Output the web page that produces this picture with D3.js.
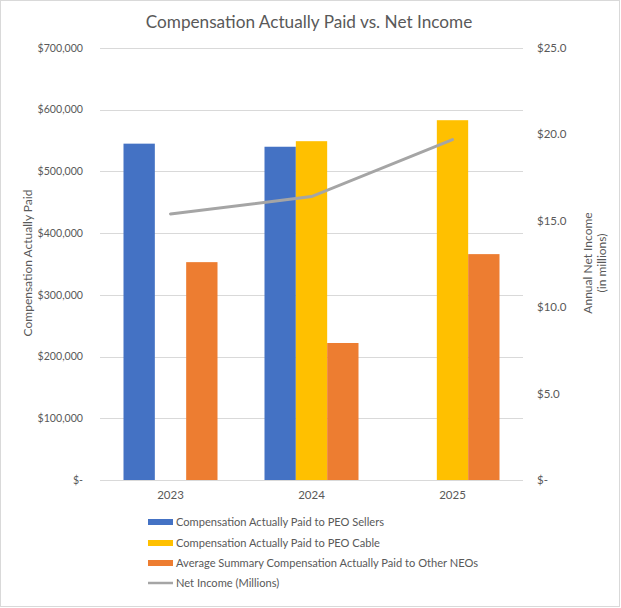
<!DOCTYPE html>
<html>
<head>
<meta charset="utf-8">
<script src="https://cdn.jsdelivr.net/npm/d3@7"></script>
<style>
  body { margin: 0; background: #fff; }
  text { font-family: Lato, "Open Sans", sans-serif; fill: #595959; }
</style>
</head>
<body>
<div id="chart"></div>
<script>
//---------------------------DATA---------------------------//
var years = ["2023", "2024", "2025"];
var seriesNames = [
    "Compensation Actually Paid to PEO Sellers",
    "Compensation Actually Paid to PEO Cable",
    "Average Summary Compensation Actually Paid to Other NEOs"
];
var peoSellers = [545000, 540000, null];
var peoCable = [null, 549000, 583000];
var otherNeos = [353000, 222000, 366000];
var netIncome = [15.4, 16.4, 19.7];
var leftTicks = [0, 100000, 200000, 300000, 400000, 500000, 600000, 700000];
var rightTicks = [0, 5, 10, 15, 20, 25];
var lineName = "Net Income (Millions)";

var colors = ["#4472C4", "#FFC000", "#ED7D31"];

//---------------------------SVG----------------------------//
var W = 621, H = 608;
var svg = d3.select("#chart").append("svg")
    .attr("width", W)
    .attr("height", H);

svg.append("rect")
    .attr("x", 0.5).attr("y", 0.5)
    .attr("width", W - 2).attr("height", H - 2)
    .attr("fill", "#fff")
    .attr("stroke", "#d9d9d9");

var plot = { left: 100, right: 523, top: 48, bottom: 480 };

//--------------------------SCALES--------------------------//
var x0 = d3.scaleBand().domain(years).range([plot.left, plot.right]);
var bw = x0.bandwidth();
var x1 = d3.scaleBand().domain([0, 1, 2]).range([bw / 6, bw * 5 / 6]);
var yL = d3.scaleLinear().domain([0, 700000]).range([plot.bottom, plot.top]);
var yR = d3.scaleLinear().domain([0, 25]).range([plot.bottom, plot.top]);

//-------------------------GRIDLINES------------------------//
svg.append("g").selectAll("line")
    .data(leftTicks)
    .enter().append("line")
    .attr("x1", plot.left).attr("x2", plot.right)
    .attr("y1", function(d) { return Math.round(yL(d)) + 0.5; })
    .attr("y2", function(d) { return Math.round(yL(d)) + 0.5; })
    .attr("stroke", "#d9d9d9");

//---------------------------AXES---------------------------//
var fmtL = function(d) { return d === 0 ? "$-" : "$" + d3.format(",")(d); };
var fmtR = function(d) { return d === 0 ? "$-" : "$" + d3.format(".1f")(d); };

svg.append("g").selectAll("text")
    .data(leftTicks)
    .enter().append("text")
    .attr("x", 83)
    .attr("y", function(d) { return yL(d); })
    .attr("dy", "0.35em")
    .attr("text-anchor", "end")
    .style("font-size", "10.6px")
    .text(fmtL);

svg.append("g").selectAll("text")
    .data(rightTicks)
    .enter().append("text")
    .attr("x", 537)
    .attr("y", function(d) { return yR(d); })
    .attr("dy", "0.35em")
    .style("font-size", "11.5px")
    .text(fmtR);

svg.append("g").selectAll("text")
    .data(years)
    .enter().append("text")
    .attr("x", function(d) { return x0(d) + bw / 2; })
    .attr("y", 499)
    .attr("text-anchor", "middle")
    .style("font-size", "11.5px")
    .text(function(d) { return d; });

svg.append("text")
    .attr("transform", "translate(32,263) rotate(-90)")
    .attr("text-anchor", "middle")
    .style("font-size", "12px")
    .text("Compensation Actually Paid");

var rt = svg.append("text")
    .attr("transform", "translate(588,263) rotate(-90)")
    .attr("text-anchor", "middle")
    .style("font-size", "12px");
rt.append("tspan").attr("x", 0).attr("dy", "0.35em").text("Annual Net Income");
rt.append("tspan").attr("x", 0).attr("dy", "1.15em").text("(in millions)");

//---------------------------TITLE--------------------------//
svg.append("text")
    .attr("x", 309)
    .attr("y", 28)
    .attr("text-anchor", "middle")
    .style("font-size", "17.2px")
    .text("Compensation Actually Paid vs. Net Income");

//---------------------------BARS---------------------------//
var allSeries = [peoSellers, peoCable, otherNeos];
var barData = [];
allSeries.forEach(function(s, si) {
    s.forEach(function(v, i) {
        if (v !== null) barData.push({ year: years[i], s: si, v: v });
    });
});

svg.append("g").selectAll("rect")
    .data(barData)
    .enter().append("rect")
    .attr("x", function(d) { return x0(d.year) + x1(d.s); })
    .attr("y", function(d) { return yL(d.v); })
    .attr("width", x1.bandwidth())
    .attr("height", function(d) { return yL(0) - yL(d.v); })
    .attr("fill", function(d) { return colors[d.s]; });

//---------------------------LINE---------------------------//
var line = d3.line()
    .x(function(d, i) { return x0(years[i]) + bw / 2; })
    .y(function(d) { return yR(d); });

svg.append("path")
    .datum(netIncome)
    .attr("d", line)
    .attr("fill", "none")
    .attr("stroke", "#A5A5A5")
    .attr("stroke-width", 3)
    .attr("stroke-linecap", "round");

//--------------------------LEGEND--------------------------//
var legY = [522, 543, 563, 583];
seriesNames.forEach(function(name, i) {
    svg.append("rect")
        .attr("x", 148).attr("y", legY[i] - 3)
        .attr("width", 25).attr("height", 6)
        .attr("fill", colors[i]);
    svg.append("text")
        .attr("x", 176).attr("y", legY[i])
        .attr("dy", "0.35em")
        .style("font-size", "11.1px")
        .text(name);
});
svg.append("line")
    .attr("x1", 148).attr("x2", 173)
    .attr("y1", legY[3]).attr("y2", legY[3])
    .attr("stroke", "#A5A5A5")
    .attr("stroke-width", 2.5);
svg.append("text")
    .attr("x", 176).attr("y", legY[3])
    .attr("dy", "0.35em")
    .style("font-size", "11.1px")
    .text(lineName);
</script>
</body>
</html>
